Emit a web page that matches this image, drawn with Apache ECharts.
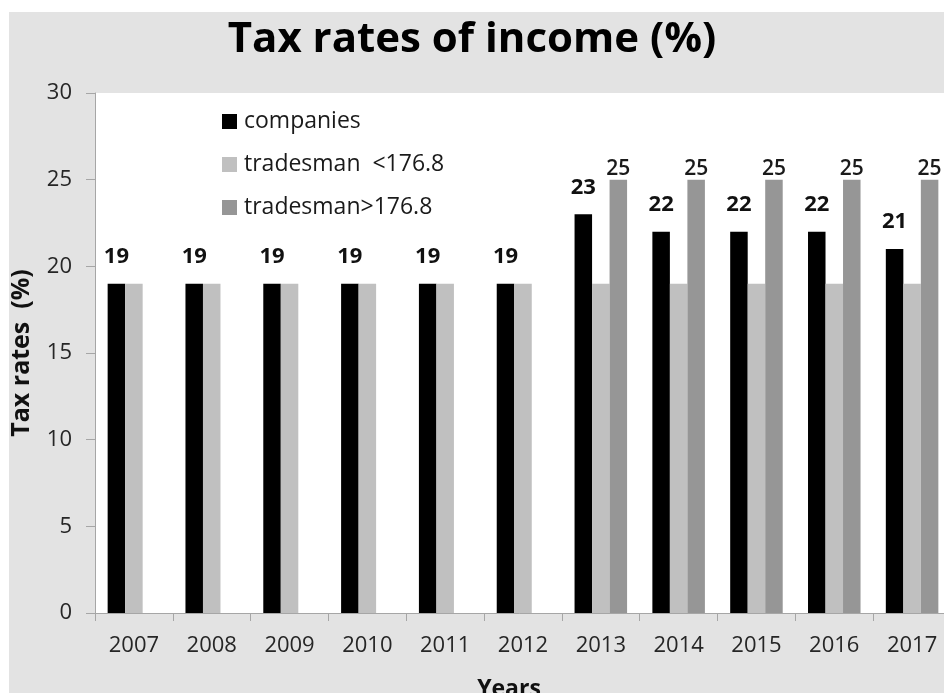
<!DOCTYPE html>
<html>
<head>
<meta charset="utf-8">
<script src="https://cdn.jsdelivr.net/npm/echarts@6/dist/echarts.min.js"></script>
<style>
  html, body { margin: 0; padding: 0; background: #ffffff; }
  #chart { width: 944px; height: 693px; }
</style>
</head>
<body>
<div id="chart"></div>
<script>
// Income tax rates by year
const years = ['2007', '2008', '2009', '2010', '2011', '2012', '2013', '2014', '2015', '2016', '2017'];
const companies = [19, 19, 19, 19, 19, 19, 23, 22, 22, 22, 21];
const tradesmanLow = [19, 19, 19, 19, 19, 19, 19, 19, 19, 19, 19];
const tradesmanHigh = [null, null, null, null, null, null, 25, 25, 25, 25, 25];
const seriesNames = ['companies', 'tradesman  <176.8', 'tradesman>176.8'];
const yTicks = { min: 0, max: 30, step: 5 };

const FONT = 'Open Sans';
const chart = echarts.init(document.getElementById('chart'), null, { renderer: 'canvas' });

chart.setOption({
  backgroundColor: '#e3e3e3',
  animation: false,
  textStyle: { fontFamily: FONT },
  graphic: [
    { type: 'rect', left: 0, top: 0, z: -10, shape: { width: 944, height: 12 }, style: { fill: '#ffffff' } },
    { type: 'rect', left: 0, top: 0, z: -10, shape: { width: 9, height: 693 }, style: { fill: '#ffffff' } }
  ],
  title: {
    text: 'Tax rates of income (%)',
    left: 'center',
    top: 14,
    textStyle: { fontFamily: FONT, fontSize: 42, fontWeight: 'bold', color: '#000000' }
  },
  legend: {
    orient: 'vertical',
    left: 217,
    top: 105,
    itemWidth: 15,
    itemHeight: 15,
    itemGap: 20,
    icon: 'rect',
    data: seriesNames,
    textStyle: { fontFamily: FONT, fontSize: 23, color: '#1a1a1a', lineHeight: 23, padding: [0, 0, 0, 2] }
  },
  grid: {
    left: 95,
    top: 93,
    width: 856,
    height: 520,
    show: true,
    backgroundColor: '#ffffff',
    borderWidth: 0,
    containLabel: false,
    outerBoundsMode: 'none'
  },
  xAxis: {
    type: 'category',
    data: years,
    name: 'Years',
    nameLocation: 'middle',
    nameGap: 65,
    nameTextStyle: { fontFamily: FONT, fontSize: 23, fontWeight: 'bold', color: '#111111', padding: [0, 28, 0, 0] },
    axisLine: { lineStyle: { color: '#a6a6a6', width: 1 } },
    axisTick: { show: true, length: 8, interval: 0, lineStyle: { color: '#a6a6a6' } },
    axisLabel: { fontFamily: FONT, fontSize: 22, color: '#262626', margin: 22, interval: 0 }
  },
  yAxis: {
    type: 'value',
    min: yTicks.min,
    max: yTicks.max,
    interval: yTicks.step,
    name: 'Tax rates  (%)',
    nameLocation: 'middle',
    nameRotate: 90,
    nameGap: 61,
    nameTextStyle: { fontFamily: FONT, fontSize: 25, fontWeight: 'bold', color: '#111111' },
    splitLine: { show: false },
    axisLine: { show: true, lineStyle: { color: '#a6a6a6', width: 1 } },
    axisTick: { show: true, length: 9, lineStyle: { color: '#a6a6a6' } },
    axisLabel: { fontFamily: FONT, fontSize: 22, color: '#262626', margin: 23 }
  },
  series: [
    {
      name: seriesNames[0],
      type: 'bar',
      data: companies,
      barGap: '0%',
      barCategoryGap: '32.5%',
      itemStyle: { color: '#000000' },
      label: {
        show: true,
        position: 'top',
        distance: 16,
        fontFamily: FONT,
        fontSize: 22,
        fontWeight: 'bold',
        color: '#111111'
      }
    },
    {
      name: seriesNames[1],
      type: 'bar',
      data: tradesmanLow,
      barGap: '0%',
      barCategoryGap: '32.5%',
      itemStyle: { color: '#c0c0c0' }
    },
    {
      name: seriesNames[2],
      type: 'bar',
      data: tradesmanHigh,
      barGap: '0%',
      barCategoryGap: '32.5%',
      itemStyle: { color: '#969696' },
      label: {
        show: true,
        position: 'top',
        distance: 0,
        fontFamily: FONT,
        fontSize: 21,
        fontWeight: 600,
        color: '#1a1a1a'
      }
    }
  ]
});
</script>
</body>
</html>
